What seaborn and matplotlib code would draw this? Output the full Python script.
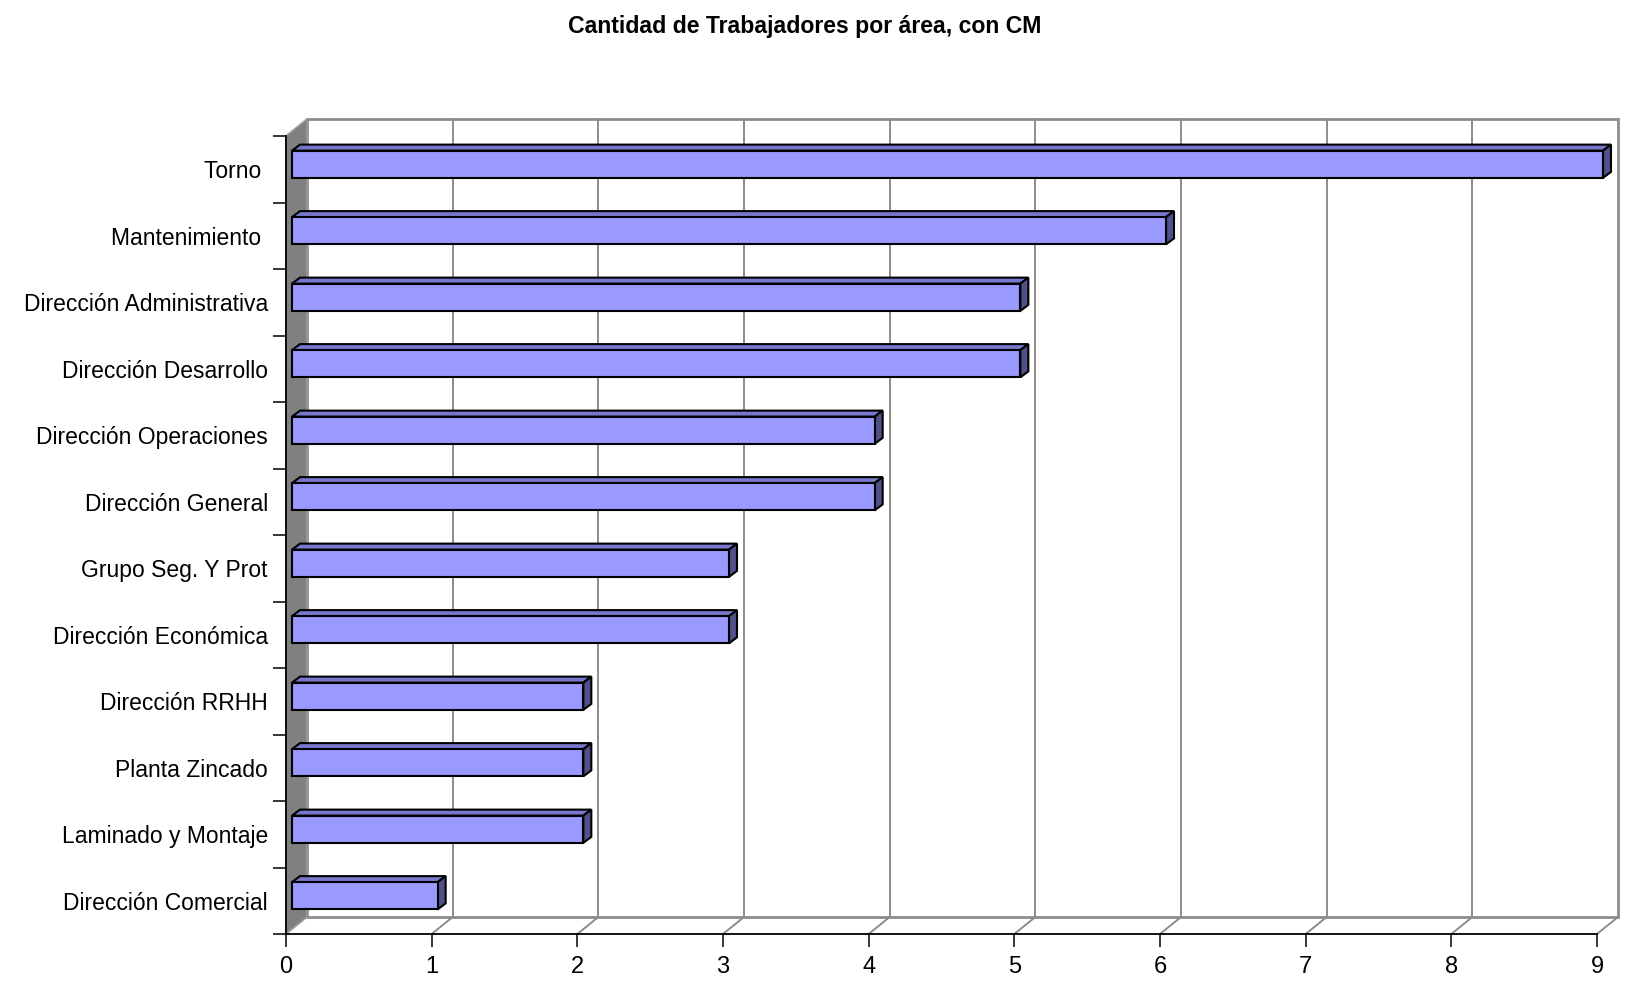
import pandas as pd
import matplotlib.pyplot as plt
import seaborn as sns
from matplotlib.patches import Polygon

# data
areas = ['Torno ', 'Mantenimiento ', 'Dirección Administrativa', 'Dirección Desarrollo',
         'Dirección Operaciones', 'Dirección General', 'Grupo Seg. Y Prot',
         'Dirección Económica', 'Dirección RRHH', 'Planta Zincado',
         'Laminado y Montaje', 'Dirección Comercial']
workers = [9, 6, 5, 5, 4, 4, 3, 3, 2, 2, 2, 1]
x_ticks = list(range(10))

FRONT = '#9999FF'
TOP = '#7777CC'
SIDE = '#50508A'
WALL_GRAY = '#808080'
GRID_GRAY = '#8c8c8c'

sns.set_theme(style='white')
plt.rcParams['font.family'] = ['Liberation Sans', 'DejaVu Sans']

df = pd.DataFrame({'Area': areas, 'Trabajadores': workers})

W, H = 1633, 985
fig = plt.figure(figsize=(W / 100, H / 100), dpi=100)
ax = fig.add_axes([286 / W, 1 - 934 / H, (1597 - 286) / W, (934 - 136) / H])

sns.barplot(data=df, x='Trabajadores', y='Area', orient='h', color=FRONT,
            saturation=1, width=0.41, edgecolor='black', linewidth=1.5, ax=ax)
bars = list(ax.patches)

n = len(areas)
xmax = x_ticks[-1]
ax.set_xlim(0, xmax)
ax.set_ylim(n - 0.5, -0.5)

# pixel -> data units so the 3D depth can be drawn in data space
ux = xmax / ((1597 - 286))
uy = n / ((934 - 136))


def off(x, y, dx, dy):
    return (x + dx * ux, y - dy * uy)


DX, DY = 21, 17      # depth of the chart box
BX, BY = 6, 5        # bar front face offset
DB = (8, 6)          # bar depth

top_y, bot_y = -0.5, n - 0.5

# back wall
ax.add_patch(Polygon([off(0, top_y, DX, DY), off(xmax, top_y, DX, DY),
                      off(xmax, bot_y, DX, DY), off(0, bot_y, DX, DY)],
                     closed=True, facecolor='white', edgecolor=GRID_GRAY,
                     lw=2, clip_on=False, zorder=0.5))
for v in x_ticks[1:-1]:
    ax.plot(*zip(off(v, top_y, DX, DY), off(v, bot_y, DX, DY)),
            color=GRID_GRAY, lw=1.4, clip_on=False, zorder=0.6)
# floor diagonals
for v in x_ticks[1:]:
    ax.plot(*zip((v, bot_y), off(v, bot_y, DX, DY)),
            color=GRID_GRAY, lw=1.4, clip_on=False, zorder=0.6)
# left wall
ax.add_patch(Polygon([(0, top_y), off(0, top_y, DX, DY), off(0, bot_y, DX, DY), (0, bot_y)],
                     closed=True, facecolor=WALL_GRAY, edgecolor='#9a9a9a',
                     lw=1.2, clip_on=False, zorder=0.7))

# 3D bars
for p in bars:
    w, h = p.get_width(), p.get_height()
    if w == 0:
        continue
    x0, y0 = off(p.get_x(), p.get_y(), BX, BY)
    p.set_x(x0)
    p.set_y(y0)
    p.set_zorder(3)
    p.set_clip_on(False)
    ax.add_patch(Polygon([(x0, y0), (x0 + w, y0), off(x0 + w, y0, *DB), off(x0, y0, *DB)],
                         closed=True, facecolor=TOP, edgecolor='black', lw=1.5,
                         clip_on=False, zorder=2.9))
    ax.add_patch(Polygon([(x0 + w, y0), (x0 + w, y0 + h), off(x0 + w, y0 + h, *DB),
                          off(x0 + w, y0, *DB)],
                         closed=True, facecolor=SIDE, edgecolor='black', lw=1.5,
                         clip_on=False, zorder=2.9))

# axes, ticks and labels
ax.grid(False)
ax.set_facecolor('none')
for s in ['top', 'right']:
    ax.spines[s].set_visible(False)
for s in ['left', 'bottom']:
    ax.spines[s].set_color('black')
    ax.spines[s].set_linewidth(1.3)
    ax.spines[s].set_zorder(4)

ax.set_xticks(x_ticks)
ax.tick_params(axis='x', bottom=True, length=9.4, width=1.1, color='black',
               labelsize=17, pad=6.5, labelcolor='black')
ax.set_yticks(range(n))
ax.set_yticklabels(areas)
ax.set_yticks([i - 0.5 for i in range(n + 1)], minor=True)
ax.tick_params(axis='y', which='major', left=False, length=0, labelsize=16.5, pad=13,
               labelcolor='black')
ax.tick_params(axis='y', which='minor', left=True, length=9.4, width=1.1, color='black')
ax.set_xlabel('')
ax.set_ylabel('')

fig.text(0.493, 1 - 27 / H, 'Cantidad de Trabajadores por área, con CM',
         ha='center', va='center', fontsize=16.6, fontweight='bold', color='black')

fig.savefig('out.png', dpi=100)
